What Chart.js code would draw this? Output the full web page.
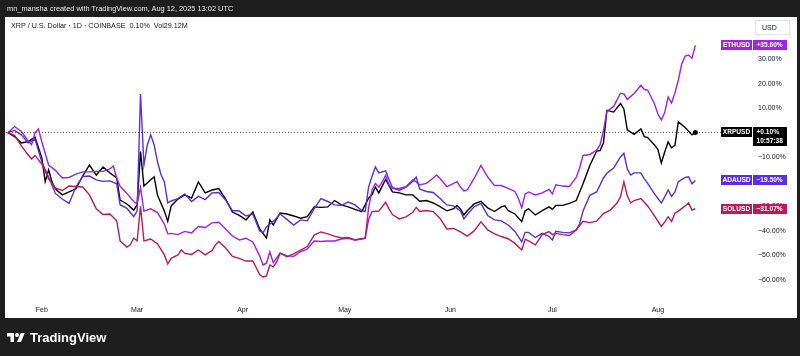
<!DOCTYPE html>
<html><head><meta charset="utf-8">
<script src="https://cdn.jsdelivr.net/npm/chart.js@4.4.1/dist/chart.umd.min.js"></script>
<style>
html,body{margin:0;padding:0;background:#1e1e1e;width:800px;height:356px;overflow:hidden;}
#wrap{position:relative;width:800px;height:356px;}
canvas{position:absolute;left:0;top:0;}
.t{position:absolute;white-space:pre;font-family:"Liberation Sans",Arial,sans-serif;}
#hdr{left:7px;top:4px;color:#e8e8e8;font-size:7.4px;}
#sym{left:11px;top:21px;color:#131722;font-size:7.2px;}
#usd{left:755px;top:20px;width:35px;height:15px;box-sizing:border-box;border:1px solid #e0e3eb;background:#fff;color:#131722;font-size:7px;line-height:13px;padding-left:6px;}
#logo{left:7px;top:330px;color:#fff;font-size:13px;font-weight:600;display:flex;align-items:center;gap:5px;}
</style></head>
<body><div id="wrap">
<canvas id="c" width="800" height="356"></canvas>
<div class="t" id="hdr">mn_mansha created with TradingView.com, Aug 12, 2025 13:02 UTC</div>
<div class="t" id="sym">XRP / U.S. Dollar · 1D · COINBASE  0.10%  Vol29.12M</div>
<div class="t" id="usd">USD</div>
<div class="t" id="logo"><svg width="18" height="14" viewBox="0 0 36 28"><path fill="#fff" d="M14 22H7V11H0V4h14v18zM28 22h-8l7.5-18h8L28 22z"/><circle fill="#fff" cx="20" cy="8" r="4"/></svg><span>TradingView</span></div>
</div>
<script>
// x = day of year 2025 (Jan 1 = 0), y = % change since first bar
const monthStarts = [31, 59, 90, 120, 151, 181, 212];
const monthLabels = ['Feb', 'Mar', 'Apr', 'May', 'Jun', 'Jul', 'Aug'];
const yTicks = [-60, -50, -40, -30, -20, -10, 0, 10, 20, 30];
const seriesNames = ['XRPUSD', 'ETHUSD', 'ADAUSD', 'SOLUSD'];
const xrpCountdown = '10:57:38';

const xrp = [[21,0],[23,-1.6],[25,-4.2],[27,-3.6],[29,-1.8],[31,-10.3],[32,-20.0],[33,-15.2],[34,-20.1],[35,-23.0],[37,-25.4],[39,-24.2],[41,-23.0],[43,-17.7],[45,-13.2],[47,-17.3],[49,-14.0],[51,-16.4],[53,-18.5],[54,-27.5],[56,-29.1],[58,-31.6],[59,-29.5],[60,-7.7],[61,-21.8],[63,-19.2],[64,-18.0],[65,-25.6],[67,-32.0],[68,-36.2],[69,-29.9],[71,-27.1],[73,-25.4],[75,-26.7],[77,-20.1],[79,-24.6],[81,-23.4],[83,-22.8],[85,-27.1],[87,-32.4],[89,-33.8],[91,-35.6],[93,-32.4],[95,-39.3],[97,-43.0],[98,-35.6],[99,-37.7],[101,-32.8],[103,-33.2],[105,-34.0],[107,-34.9],[109,-34.3],[111,-30.3],[113,-30.5],[115,-30.3],[117,-27.7],[119,-29.5],[121,-30.3],[123,-31.3],[125,-32.2],[127,-26.7],[128,-25.4],[129,-22.2],[130,-24.6],[131,-21.8],[132,-19.1],[134,-24.2],[136,-24.6],[138,-25.4],[140,-25.4],[142,-28.0],[144,-27.7],[146,-28.7],[148,-30.2],[150,-31.9],[152,-31.0],[153,-29.7],[154,-31.1],[155,-33.6],[156,-31.9],[158,-29.1],[160,-28.0],[162,-30.7],[164,-32.2],[166,-30.3],[167,-29.9],[168,-31.8],[170,-33.2],[172,-36.3],[173,-31.9],[174,-31.1],[176,-33.6],[178,-31.8],[180,-30.3],[181,-31.3],[182,-29.7],[184,-29.7],[186,-28.9],[188,-27.7],[190,-20.9],[192,-13.4],[194,-7.5],[195,-7.3],[196,-4.2],[197,9.1],[199,8.4],[201,11.9],[202,9.7],[203,1.1],[205,-0.7],[207,1.5],[208,-1.6],[209,-2.0],[211,-5.0],[212,-6.9],[213,-12.4],[214,-7.9],[215,-3.8],[216,-6.2],[217,-5.2],[218,4.4],[220,2.1],[222,-0.9],[223,0.10]];

const eth = [[21,0],[23,2.5],[25,0.5],[27,-3.4],[28,-4.9],[29,-0.1],[30,1.5],[31,-3.7],[33,-13.2],[35,-15.4],[37,-18.5],[39,-18.3],[41,-16.9],[43,-16.0],[45,-16.0],[47,-15.8],[49,-15.8],[51,-14.8],[52,-13.6],[53,-18.5],[54,-21.9],[56,-24.8],[58,-28.1],[59,-29.1],[60,-22.4],[61,-32.0],[63,-31.1],[65,-32.6],[67,-37.3],[68,-41.3],[69,-41.1],[71,-41.6],[73,-40.3],[75,-40.9],[77,-38.3],[79,-38.7],[81,-36.8],[83,-36.6],[85,-39.3],[87,-42.2],[89,-43.8],[91,-43.1],[93,-44.6],[95,-50.3],[96,-54.0],[97,-53.3],[98,-48.7],[99,-53.1],[101,-49.2],[103,-50.3],[105,-50.5],[107,-48.6],[109,-47.5],[111,-44.2],[113,-44.4],[115,-44.2],[117,-44.2],[119,-43.4],[121,-43.1],[123,-43.8],[125,-43.2],[126,-43.1],[127,-30.7],[128,-23.4],[129,-20.7],[130,-22.2],[131,-20.1],[132,-17.5],[133,-21.3],[134,-22.8],[136,-22.8],[138,-22.0],[140,-19.3],[141,-20.1],[142,-21.3],[144,-20.7],[146,-18.5],[147,-17.3],[148,-18.7],[150,-22.0],[152,-20.7],[153,-20.0],[154,-22.2],[155,-23.8],[156,-23.4],[158,-18.7],[160,-13.4],[162,-18.1],[164,-21.6],[166,-21.6],[168,-22.7],[170,-24.0],[171,-26.8],[172,-30.7],[173,-25.0],[174,-24.2],[176,-25.4],[178,-24.6],[180,-23.2],[181,-25.0],[182,-21.3],[184,-21.8],[186,-22.0],[188,-18.3],[189,-14.4],[190,-9.3],[192,-8.9],[194,-7.1],[195,-5.0],[196,0.9],[197,8.7],[199,10.7],[201,16.1],[202,15.8],[203,13.6],[205,16.0],[207,19.3],[208,17.6],[209,17.4],[211,11.7],[212,7.6],[213,5.2],[214,8.2],[215,14.6],[216,12.1],[217,16.2],[218,21.5],[219,28.0],[220,31.3],[221,31.7],[222,30.4],[223,35.60]];

const ada = [[21,0],[23,0.9],[25,-0.9],[27,-4.2],[29,-2.6],[31,-12.0],[33,-18.1],[35,-24.8],[37,-27.1],[39,-28.9],[41,-22.2],[43,-17.9],[45,-17.7],[47,-19.3],[49,-19.9],[51,-19.7],[53,-20.9],[54,-29.4],[56,-30.9],[58,-34.2],[59,-32.0],[60,15.8],[61,-13.2],[62,-5.0],[63,-0.9],[64,-5.0],[65,-12.0],[66,-17.1],[67,-20.1],[68,-28.7],[69,-27.9],[71,-26.9],[73,-25.0],[75,-28.1],[77,-26.0],[79,-27.3],[81,-24.6],[83,-24.4],[85,-27.5],[87,-31.8],[89,-32.0],[91,-34.0],[93,-33.2],[95,-40.1],[96,-40.9],[97,-38.5],[99,-36.3],[101,-33.2],[103,-35.4],[105,-37.7],[107,-35.6],[109,-36.0],[111,-31.1],[113,-26.9],[115,-28.1],[117,-29.5],[119,-29.7],[121,-28.3],[123,-29.5],[125,-31.8],[126,-32.2],[127,-22.2],[128,-17.9],[129,-14.0],[130,-16.4],[132,-15.6],[133,-19.1],[134,-22.4],[136,-23.6],[138,-22.2],[140,-19.8],[141,-18.1],[142,-23.0],[144,-24.0],[146,-24.4],[148,-26.9],[150,-29.5],[152,-29.9],[154,-32.0],[155,-35.2],[156,-33.4],[158,-30.3],[160,-28.9],[162,-33.8],[164,-35.6],[166,-36.0],[168,-37.7],[170,-40.3],[171,-42.4],[172,-44.5],[173,-40.7],[174,-40.7],[176,-42.8],[178,-41.1],[180,-42.3],[181,-43.8],[182,-40.3],[184,-40.7],[186,-40.9],[188,-39.7],[189,-37.2],[190,-32.0],[192,-25.6],[194,-24.2],[196,-18.5],[197,-16.6],[199,-14.4],[201,-9.9],[202,-8.4],[203,-14.8],[204,-17.3],[205,-16.4],[207,-16.4],[208,-18.9],[209,-20.7],[211,-25.0],[213,-28.7],[214,-26.2],[215,-23.4],[216,-26.0],[217,-24.2],[218,-20.0],[220,-18.3],[221,-18.0],[222,-20.9],[223,-19.50]];

const sol = [[21,0],[23,-1.1],[25,-5.4],[27,-9.1],[28,-10.7],[29,-9.3],[31,-12.8],[33,-18.9],[35,-22.6],[37,-23.6],[39,-21.8],[41,-22.0],[43,-22.2],[45,-25.4],[47,-31.1],[49,-33.4],[51,-33.2],[53,-36.0],[54,-44.2],[56,-46.7],[57,-45.8],[58,-43.0],[59,-44.2],[60,-30.1],[61,-44.2],[63,-43.4],[65,-45.4],[67,-49.9],[68,-53.6],[69,-51.3],[71,-49.9],[72,-47.8],[73,-49.3],[75,-49.7],[77,-47.9],[79,-49.9],[81,-48.1],[82,-45.8],[83,-44.4],[85,-47.1],[87,-50.5],[89,-51.3],[91,-52.4],[93,-52.4],[95,-57.9],[96,-58.9],[97,-58.5],[98,-54.0],[99,-54.8],[100,-52.8],[101,-49.2],[103,-50.6],[105,-49.5],[107,-47.9],[109,-46.5],[111,-41.8],[113,-40.5],[115,-41.3],[117,-42.2],[119,-43.0],[121,-42.8],[123,-43.8],[125,-43.4],[126,-43.1],[127,-35.4],[128,-32.2],[130,-32.0],[132,-28.4],[133,-31.1],[134,-33.4],[136,-35.2],[138,-34.4],[140,-32.5],[141,-30.5],[142,-32.2],[144,-31.8],[146,-32.2],[148,-35.0],[150,-39.3],[152,-39.1],[154,-40.5],[156,-42.2],[158,-40.1],[160,-36.4],[162,-39.7],[164,-41.3],[166,-42.4],[168,-43.3],[170,-45.2],[172,-47.9],[173,-43.5],[174,-44.2],[176,-45.8],[178,-41.6],[180,-40.4],[181,-41.6],[182,-41.1],[184,-41.6],[186,-42.0],[188,-39.7],[190,-36.2],[192,-36.7],[194,-36.1],[196,-33.0],[198,-31.6],[200,-28.7],[201,-26.2],[202,-20.1],[203,-25.8],[204,-28.7],[205,-27.7],[207,-26.9],[209,-29.9],[211,-34.0],[213,-38.3],[214,-36.4],[215,-34.3],[216,-36.3],[217,-32.9],[218,-32.0],[220,-29.9],[221,-28.7],[222,-31.6],[223,-31.07]];

const colors = {XRPUSD: '#000000', ETHUSD: '#a01ff2', ADAUSD: '#5a2ee8', SOLUSD: '#c1185b'};
const seriesData = {XRPUSD: xrp, ETHUSD: eth, ADAUSD: ada, SOLUSD: sol};

const FONT = '"Liberation Sans", Arial, sans-serif';
const fmtPct = v => (v < 0 ? '\u2212' : '+') + Math.abs(v).toFixed(2) + '%';
const fmtTick = v => (v < 0 ? '\u2212' : '') + Math.abs(v).toFixed(2) + '%';

const toPts = arr => arr.map(p => ({x: p[0], y: p[1]}));

const datasets = ['SOLUSD', 'ADAUSD', 'ETHUSD', 'XRPUSD'].map(n => ({
  label: n,
  data: toPts(seriesData[n]),
  borderColor: colors[n],
  backgroundColor: colors[n],
  borderWidth: 1.4,
  tension: 0,
  pointRadius: n === 'XRPUSD' ? (c => c.dataIndex === seriesData[n].length - 1 ? 2.5 : 0) : 0,
  pointBorderWidth: 0,
  fill: false
}));

const framePlugin = {
  id: 'frame',
  beforeDraw(chart) {
    const ctx = chart.ctx;
    ctx.save();
    ctx.fillStyle = '#ffffff';
    ctx.fillRect(5, 17, 792, 301);
    ctx.restore();
  },
  beforeDatasetsDraw(chart) {
    const ctx = chart.ctx, ys = chart.scales.y, a = chart.chartArea;
    const last = xrp[xrp.length - 1][1];
    const py = Math.round(ys.getPixelForValue(last)) + 0.5;
    ctx.save();
    ctx.strokeStyle = '#5d606b';
    ctx.lineWidth = 1;
    ctx.setLineDash([1, 2]);
    ctx.beginPath();
    ctx.moveTo(a.left, py);
    ctx.lineTo(a.right + 1, py);
    ctx.stroke();
    ctx.restore();
  },
  afterDraw(chart) {
    const ctx = chart.ctx, ys = chart.scales.y;
    ctx.save();
    ctx.font = 'bold 6.6px ' + FONT;
    ctx.textBaseline = 'middle';
    seriesNames.forEach(n => {
      const arr = seriesData[n];
      const v = arr[arr.length - 1][1];
      const yc = ys.getPixelForValue(v);
      const top = Math.round(yc - 5);
      const c = colors[n];
      const isX = n === 'XRPUSD';
      const vt = fmtPct(v);
      const vw = Math.ceil(Math.max(ctx.measureText(vt).width, isX ? ctx.measureText(xrpCountdown).width : 0)) + 7;
      ctx.fillStyle = c;
      ctx.fillRect(721, top, 31, 10);
      ctx.fillRect(753, top, vw, isX ? 19 : 10);
      ctx.fillStyle = '#ffffff';
      ctx.textAlign = 'center';
      ctx.fillText(n, 736.5, top + 5.3);
      ctx.textAlign = 'left';
      ctx.fillText(vt, 756.5, top + 5.3);
      if (isX) ctx.fillText(xrpCountdown, 756.5, top + 14);
    });
    ctx.restore();
  }
};

new Chart(document.getElementById('c'), {
  type: 'line',
  data: {datasets},
  options: {
    responsive: false,
    animation: false,
    events: [],
    layout: {padding: {left: 6, top: 17, right: 0, bottom: 0}},
    plugins: {legend: {display: false}, tooltip: {enabled: false}},
    scales: {
      x: {
        type: 'linear',
        position: 'bottom',
        min: 20.48,
        max: 230.24,
        grid: {display: false, drawTicks: false},
        border: {display: false},
        afterFit: s => { s.height = 56; },
        afterBuildTicks: s => { s.ticks = monthStarts.map(v => ({value: v})); },
        ticks: {
          autoSkip: false,
          maxRotation: 0,
          padding: 6,
          color: '#131722',
          font: {family: FONT, size: 7},
          callback: v => monthLabels[monthStarts.indexOf(v)]
        }
      },
      y: {
        type: 'linear',
        position: 'right',
        min: -68.3,
        max: 47.2,
        grid: {display: false, drawTicks: true, tickLength: 38},
        border: {display: false},
        afterFit: s => { s.width = 80; },
        afterBuildTicks: s => { s.ticks = yTicks.map(v => ({value: v})); },
        ticks: {
          padding: 0,
          color: '#131722',
          font: {family: FONT, size: 7},
          callback: v => fmtTick(v)
        }
      }
    }
  },
  plugins: [framePlugin]
});
</script>
</body></html>
